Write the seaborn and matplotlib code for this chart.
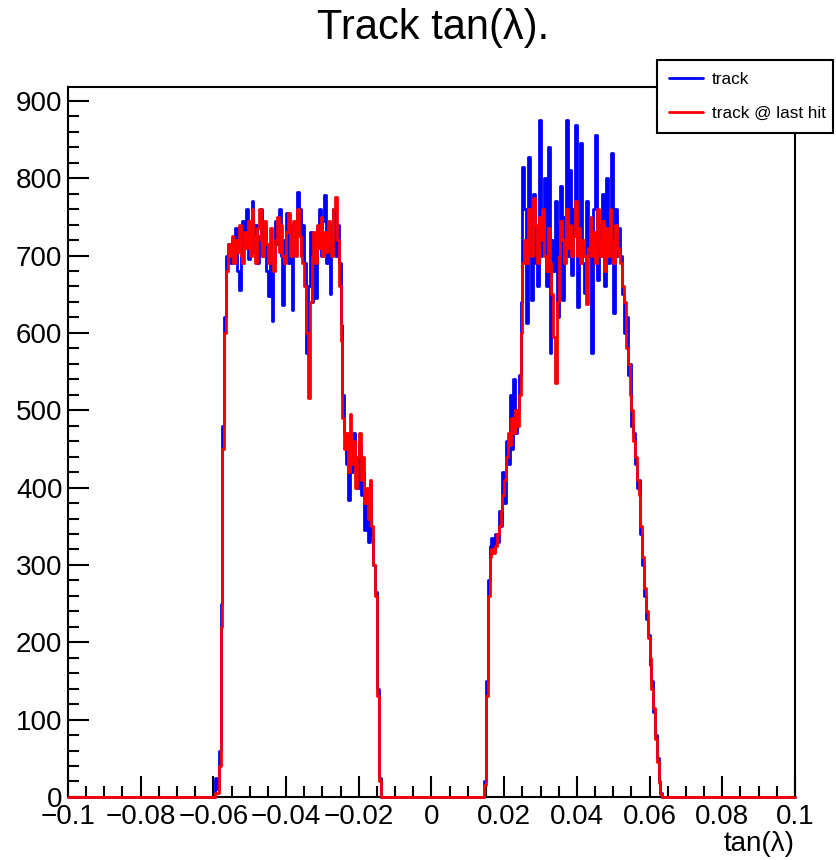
import numpy as np
import matplotlib
matplotlib.use("Agg")
import matplotlib.pyplot as plt
from matplotlib.lines import Line2D
from matplotlib.ticker import MultipleLocator, FuncFormatter
import pandas as pd
import seaborn as sns

# histogram binning (tan(lambda) axis)
x_min, x_max, bin_width = -0.1, 0.1, 0.0005

# bin contents, nonzero stretches only
left_start = -0.0600
right_start = 0.0140

track_left = [
    0, 25, 10, 60, 250, 480, 620, 700,
    715, 690, 720, 700, 735, 680, 655, 700, 745, 710,
    760, 695, 730, 770, 705, 740, 690, 725, 760, 700,
    735, 680, 648, 700, 615, 690, 745, 715, 760, 700,
    636, 720, 755, 690, 740, 630, 710, 735, 782, 760,
    700, 740, 690, 574, 660, 730, 640, 700, 645, 735,
    760, 700, 745, 778, 690, 740, 650, 725, 760, 700,
    740,
    690, 610, 520, 470, 430, 384, 460, 420, 470, 440,
    400, 455, 390, 420, 345, 380, 330, 405, 340, 300,
    265, 140, 25, 0,
]
last_hit_left = [
    0, 5, 5, 40, 220, 450, 600, 680,
    715, 700, 725, 690, 720, 705, 740, 700, 690, 730,
    710, 745, 700, 760, 725, 690, 735, 760, 720, 700,
    745, 715, 690, 735, 700, 680, 720, 750, 705, 740,
    700, 690, 730, 755, 700, 720, 745, 700, 760, 725,
    700, 690, 660, 600, 516, 640, 700, 730, 690, 740,
    710, 750, 700, 730, 705, 745, 720, 700, 760, 776,
    720,
    660, 590, 490, 450, 470, 420, 495, 430, 460, 400,
    440, 470, 410, 440, 380, 400, 360, 410, 350, 300,
    260, 130, 20, 0,
]
track_right = [
    0, 20, 150, 280, 325, 335, 320, 340, 330, 370, 350, 420,
    380, 460, 430, 520, 450, 540, 470, 500, 545, 640, 815,
    760, 613, 828, 700, 643, 780, 690, 660, 875, 700,
    760, 800, 660, 840, 574, 720, 680, 770, 620, 740,
    790, 643, 750, 875, 700, 811, 675, 760, 869, 634,
    740, 846, 690, 652, 770, 700, 720, 574, 760, 856,
    669, 740, 700, 780, 660, 800, 690, 745, 833, 626,
    760, 700, 735,
    700, 650, 600, 620, 545, 560, 480, 470, 430, 400, 410, 340,
    300, 260, 230, 210, 170, 150, 110, 80, 50, 20, 5, 0,
]
last_hit_right = [
    0, 15, 130, 260, 310, 320, 315, 325, 340, 350, 370, 390,
    410, 440, 470, 455, 490, 470, 500, 480, 520, 600, 690,
    720, 690, 760, 730, 700, 775, 740, 690, 750, 720,
    760, 700, 680, 735, 690, 650, 595, 535, 640, 700,
    745, 720, 690, 760, 710, 740, 700, 725, 770, 700,
    735, 690, 720, 700, 638, 710, 750, 700, 730, 690,
    760, 720, 700, 745, 680, 735, 700, 760, 720, 690,
    740, 710, 700,
    690, 660, 640, 580, 560, 520, 500, 460, 440, 410, 390, 350,
    310, 270, 240, 205, 180, 140, 115, 75, 45, 18, 4, 0,
]

series_labels = ["track", "track @ last hit"]
series_colors = ["#0000ff", "#ff0000"]

n_bins = int(round((x_max - x_min) / bin_width))
edges = np.linspace(x_min, x_max, n_bins + 1)
centers = 0.5 * (edges[:-1] + edges[1:])


def fill(left, right):
    counts = np.zeros(n_bins)
    i = int(round((left_start - x_min) / bin_width))
    counts[i:i + len(left)] = left
    j = int(round((right_start - x_min) / bin_width))
    counts[j:j + len(right)] = right
    return counts


def tick_fmt(v, pos):
    v = round(v, 4)
    if v == 0:
        return "0"
    return f"{v:g}".replace("-", "\u2212")


df = pd.DataFrame({
    "tan": centers,
    "track": fill(track_left, track_right),
    "last_hit": fill(last_hit_left, last_hit_right),
})

sns.set_style("white")
plt.rcParams["font.family"] = ["Liberation Sans", "DejaVu Sans"]
plt.rcParams["text.color"] = "black"
plt.rcParams["axes.labelcolor"] = "black"

fig = plt.figure(figsize=(8.36, 8.6), dpi=100)
ax = fig.add_axes([0.0813, 0.0733, 0.8696, 0.8256])

for col, color in zip(["track", "last_hit"], series_colors):
    sns.histplot(data=df, x="tan", weights=col, bins=n_bins,
                 binrange=(x_min, x_max), element="step", fill=False,
                 color=color, linewidth=2.0, ax=ax)
for ln in ax.lines:
    ln.set_zorder(3)
    ln.set_clip_on(False)

ax.set_xlim(x_min, x_max)
ax.set_ylim(0, 918)
ax.set_ylabel("")
ax.set_xlabel("tan(λ)", loc="right", fontsize=20, labelpad=1, color="black")

ax.xaxis.set_major_locator(MultipleLocator(0.02))
ax.xaxis.set_minor_locator(MultipleLocator(0.005))
ax.yaxis.set_major_locator(MultipleLocator(100))
ax.yaxis.set_minor_locator(MultipleLocator(20))
ax.xaxis.set_major_formatter(FuncFormatter(tick_fmt))
ax.tick_params(which="both", direction="in", width=1.5, labelsize=20,
               bottom=True, left=True, top=False, right=False,
               colors="black", labelcolor="black")
ax.tick_params(which="major", length=15)
ax.tick_params(which="minor", length=8)
ax.tick_params(axis="x", pad=5)
ax.tick_params(axis="y", pad=4)
for sp in ax.spines.values():
    sp.set_linewidth(1.5)
    sp.set_color("black")

fig.text(0.518, 0.967, "Track tan(λ).", ha="center", va="center",
         fontsize=30, color="black")

handles = [Line2D([0], [0], color=c, lw=2.0) for c in series_colors]
leg = fig.legend(handles, series_labels, loc="upper left",
                 bbox_to_anchor=(0.786, 0.848, 0.21, 0.082), mode="expand",
                 fontsize=12.3, frameon=True, fancybox=False, edgecolor="black",
                 framealpha=1, handlelength=2.0, handletextpad=0.5,
                 labelspacing=1.1, borderpad=0.7, borderaxespad=0)
leg.get_frame().set_linewidth(1.5)
leg.set_zorder(10)

fig.savefig("out.png", dpi=100)
